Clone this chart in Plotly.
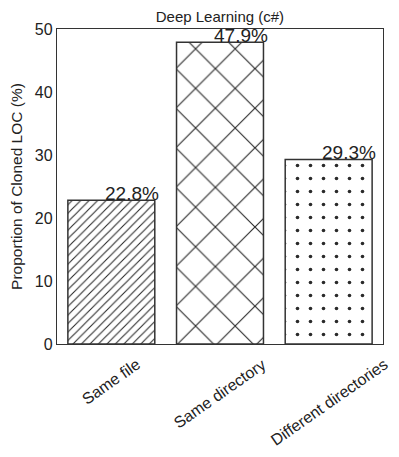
import plotly.graph_objects as go

categories = ["Same file", "Same directory", "Different directories"]
proportions = [22.8, 47.9, 29.3]
value_labels = ["22.8%", "47.9%", "29.3%"]
hatches = ["/", "x", "."]
y_ticks = [0, 10, 20, 30, 40, 50]

EDGE = "#333333"
FONT = "Liberation Sans, Arial, sans-serif"

# the page body adds an 8px margin, so the figure is drawn 8px smaller
W, H = 391, 449

fig = go.Figure()

fig.add_trace(
    go.Bar(
        x=list(range(len(categories))),
        y=proportions,
        width=0.8,
        marker=dict(
            color="white",
            line=dict(color=EDGE, width=1.5),
            pattern=dict(
                shape=hatches,
                size=[6, 28, 13],
                solidity=[0.18, 0.08, 0.06],
                fgcolor="#2a2a2a",
                fgopacity=1,
                bgcolor="white",
                fillmode="overlay",
            ),
        ),
        showlegend=False,
        hoverinfo="skip",
    )
)

# value labels sit just right of each bar centre, like the original
for i, (val, lab) in enumerate(zip(proportions, value_labels)):
    fig.add_annotation(
        x=i + 0.19,
        y=val,
        text=lab,
        showarrow=False,
        xanchor="center",
        yanchor="bottom",
        yshift=-6,
        font=dict(size=19, color="#222222", family=FONT),
    )

# rotated category labels, centred under each bar
for i, cat in enumerate(categories):
    fig.add_annotation(
        x=i,
        y=0,
        xref="x",
        yref="paper",
        text=cat,
        textangle=-35,
        showarrow=False,
        xanchor="center",
        yanchor="top",
        yshift=-9,
        font=dict(size=16, color="#222222", family=FONT),
    )

fig.update_layout(
    width=W,
    height=H,
    margin=dict(l=49, r=16, t=21, b=113, autoexpand=False),
    paper_bgcolor="white",
    plot_bgcolor="white",
    font=dict(family=FONT, color="#222222"),
    title=dict(
        text="Deep Learning (c#)",
        x=0.542,
        xanchor="center",
        y=1 - 3 / H,
        yanchor="top",
        pad=dict(t=0, b=0),
        font=dict(size=15),
    ),
    bargap=0.2,
)

fig.update_xaxes(
    range=[-0.5, 2.5],
    showticklabels=False,
    showline=True,
    linecolor=EDGE,
    linewidth=1.3,
    mirror=True,
    showgrid=False,
    zeroline=False,
    ticks="",
)

fig.update_yaxes(
    range=[0, 50],
    tickmode="array",
    tickvals=y_ticks,
    tickfont=dict(size=16),
    title=dict(text="Proportion of Cloned LOC (%)", font=dict(size=15.5), standoff=8),
    showline=True,
    linecolor=EDGE,
    linewidth=1.3,
    mirror=True,
    showgrid=False,
    zeroline=False,
    ticks="",
)

fig.write_html("out.html")
